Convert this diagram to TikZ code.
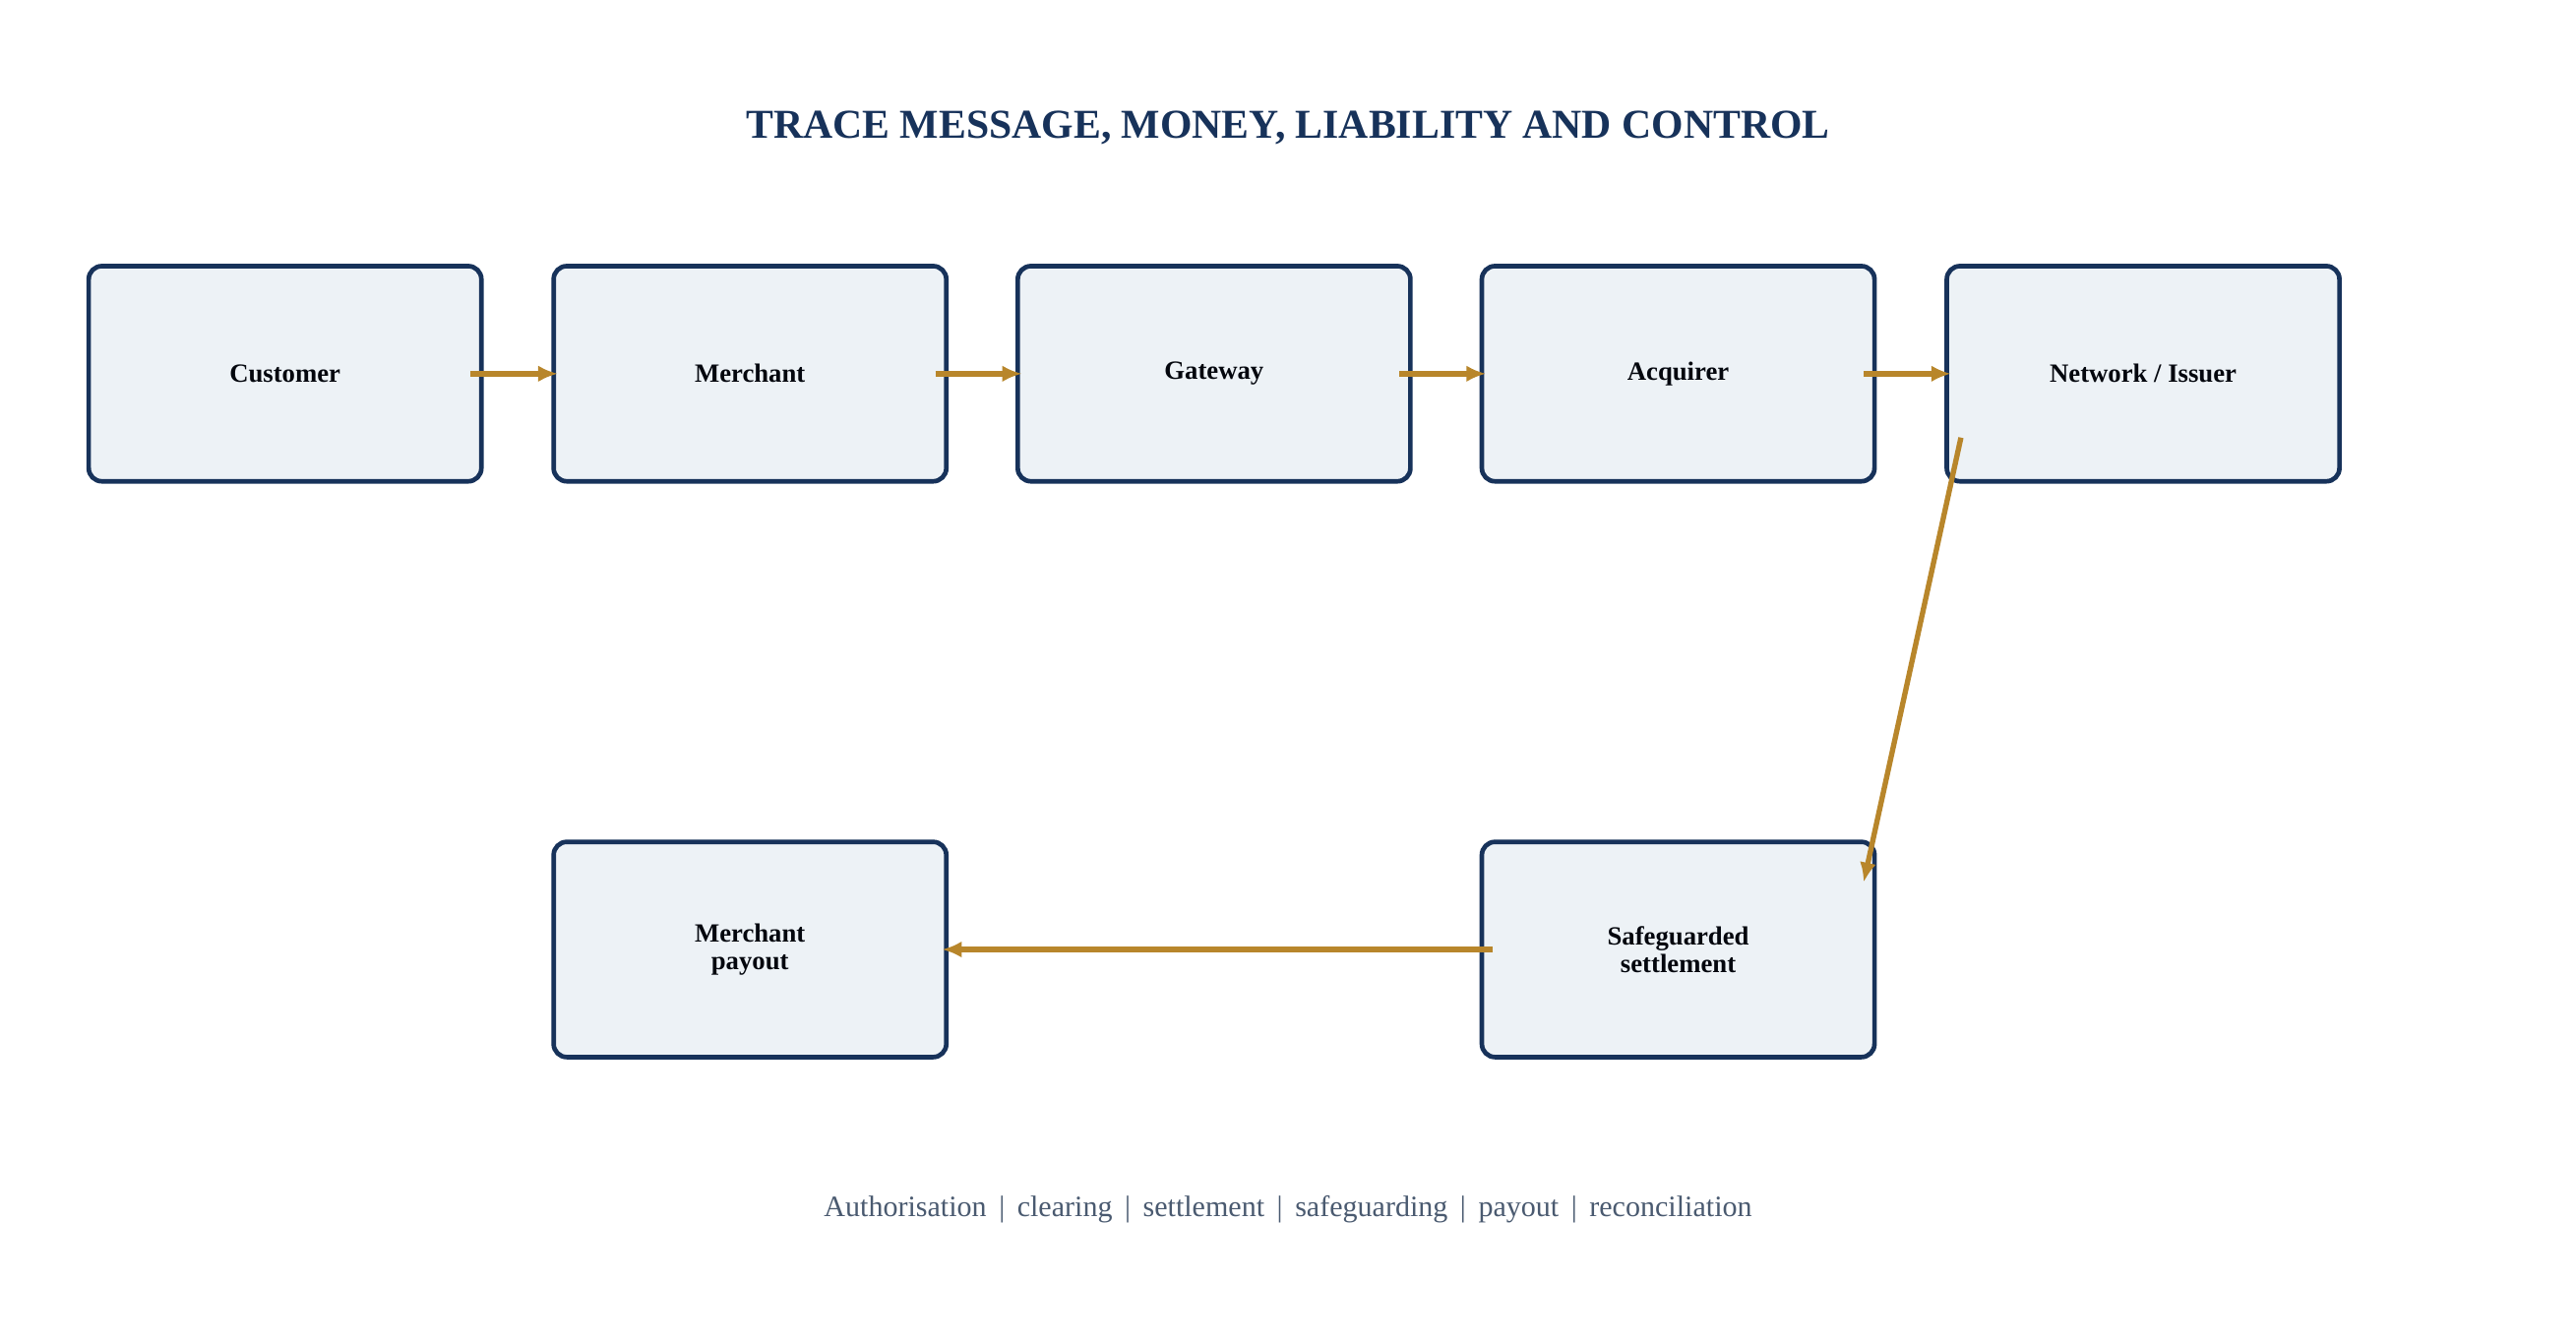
\documentclass[tikz,border=0pt]{standalone}
\usepackage{fontspec}
\setmainfont{Liberation Serif}
\usetikzlibrary{calc,arrows.meta}
\definecolor{navy}{HTML}{17325A}
\definecolor{boxfill}{HTML}{EDF2F6}
\definecolor{gold}{HTML}{B8862B}
\definecolor{foot}{HTML}{4A5A70}
\begin{document}
\begin{tikzpicture}[x=0.5pt,y=-0.5pt,
  box/.style={draw=navy,line width=1.4pt,fill=boxfill,rounded corners=4pt,minimum width=119.5pt,minimum height=65.5pt,align=center,font=\fontsize{8}{8.5}\selectfont\bfseries,text=black!85!navy},
  arr/.style={draw=gold,line width=1.6pt,-{Latex[length=6pt,width=5pt]}}]
\useasboundingbox[fill=white] (0,0) rectangle (1568,817);
\node[font=\fontsize{12.5}{14}\selectfont\bfseries,text=navy] (title) at (784,78) {TRACE MESSAGE, MONEY, LIABILITY AND CONTROL};
\node[box] (cust) at (173.5,227.5) {Customer};
\node[box] (merch) at (456.5,227.5) {Merchant};
\node[box] (gate) at (739,227.5) {Gateway};
\node[box] (acq) at (1021.5,227.5) {Acquirer};
\node[box] (net) at (1304.5,227.5) {Network / Issuer};
\node[box] (pay) at (456.5,578) {Merchant\\payout};
\node[box] (safe) at (1021.5,578) {Safeguarded\\settlement};
\draw[arr] ($(cust.east)+(-8,0)$) -- ($(merch.west)+(4,0)$);
\draw[arr] ($(merch.east)+(-8,0)$) -- ($(gate.west)+(4,0)$);
\draw[arr] ($(gate.east)+(-8,0)$) -- ($(acq.west)+(4,0)$);
\draw[arr] ($(acq.east)+(-8,0)$) -- ($(net.west)+(4,0)$);
\draw[arr] ($(net.south west)+(10,-28)$) -- ($(safe.north east)+(-8,26)$);
\draw[arr] ($(safe.west)+(8,0)$) -- ($(pay.east)+(-4,0)$);
\node[font=\fontsize{9}{10}\selectfont,text=foot] (footer) at (784,736) {Authorisation \,|\, clearing \,|\, settlement \,|\, safeguarding \,|\, payout \,|\, reconciliation};
\end{tikzpicture}
\end{document}
